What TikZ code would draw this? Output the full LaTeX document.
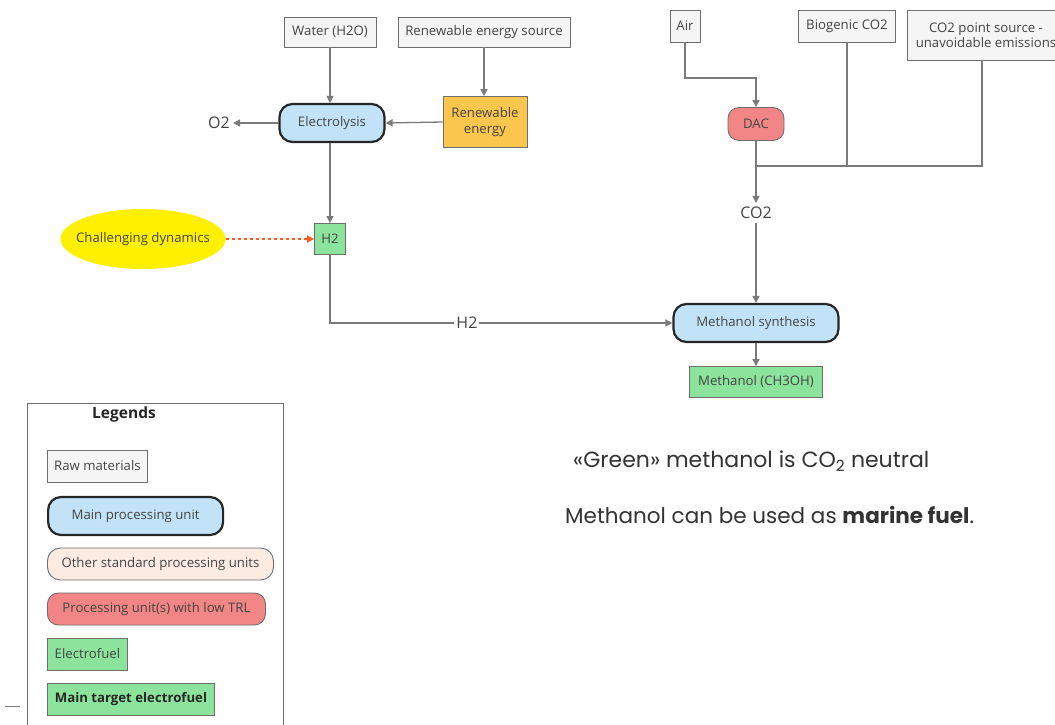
\documentclass[tikz,border=0pt]{standalone}
\usepackage{fontspec}
\setmainfont{Open Sans}
\newfontfamily\bodyfont{Poppins}
\usetikzlibrary{arrows.meta,shapes.geometric}
\definecolor{rawfill}{HTML}{F5F5F5}
\definecolor{rawdraw}{HTML}{6E6E6E}
\definecolor{bluefill}{HTML}{C2E3F7}
\definecolor{orangefill}{HTML}{FBC64E}
\definecolor{greenfill}{HTML}{8BE39C}
\definecolor{redfill}{HTML}{F28585}
\definecolor{pinkfill}{HTML}{FCEBE3}
\definecolor{yellowfill}{HTML}{FFF000}
\definecolor{linegray}{HTML}{7A7A7A}
\definecolor{txt}{HTML}{444444}
\definecolor{dashorange}{HTML}{FF5A1F}
\newcommand\dfont{\fontsize{13.2}{15.5}\selectfont}
\newcommand\efont{\fontsize{16}{18}\selectfont}
\tikzset{
  every node/.style={font=\dfont, text=txt, inner sep=0pt},
  rawbox/.style={draw=rawdraw, fill=rawfill, line width=0.9pt, minimum height=30pt},
  mainunit/.style={draw=black!85, fill=bluefill, line width=2.2pt, rounded corners=13pt, minimum height=38pt},
  otherunit/.style={draw=rawdraw, fill=pinkfill, line width=0.9pt, rounded corners=13pt, minimum height=32pt},
  lowunit/.style={draw=rawdraw, fill=redfill, line width=0.9pt, rounded corners=11pt, minimum height=32pt},
  fuelbox/.style={draw=rawdraw, fill=greenfill, line width=0.9pt, minimum height=31pt},
  energybox/.style={draw=rawdraw, fill=orangefill, line width=0.9pt, align=center},
  flowlabel/.style={font=\efont, text=txt, inner sep=3pt},
  arr/.style={draw=linegray, line width=1.3pt, -{Triangle[length=7pt,width=7pt]}},
  ln/.style={draw=linegray, line width=1.3pt},
  dasharr/.style={draw=dashorange, line width=1.2pt, dashed, -{Triangle[length=7pt,width=7pt]}},
}
\begin{document}
\begin{tikzpicture}[x=1pt, y=-1pt]
\useasboundingbox (0,0) rectangle (1055,725);
\fill[white] (0,0) rectangle (1055,725);
% left part
\node[rawbox, minimum width=92pt] (water) at (330,32) {Water (H2O)};
\node[rawbox, minimum width=172pt] (res) at (484,32) {Renewable energy source};
\node[mainunit, minimum width=105pt] (elec) at (332,123) {Electrolysis};
\node[energybox, minimum width=84pt, minimum height=51pt] (renew) at (485,122) {Renewable\\energy};
\node[flowlabel] (o2) at (219,123) {O2};
\node[fuelbox, minimum width=31pt] (h2) at (330,239) {H2};
\node[ellipse, fill=yellowfill, inner sep=-9pt, minimum width=165pt, minimum height=60pt] (chal) at (143,239) {Challenging dynamics};
\node[mainunit, minimum width=165pt] (msyn) at (756,323) {Methanol synthesis};
\node[fuelbox, minimum width=133pt] (meoh) at (756,382) {Methanol (CH3OH)};
% right part
\node[rawbox, minimum width=30pt, minimum height=32pt] (air) at (685,26) {Air};
\node[rawbox, minimum width=97pt, minimum height=32pt] (bio) at (847,26) {Biogenic CO2};
\node[rawbox, minimum width=158pt, minimum height=50pt, align=center] (pts) at (986,35) {CO2 point source -\\unavoidable emissions};
\node[lowunit, minimum width=56pt, minimum height=33pt, rounded corners=11pt] (dac) at (756,124) {DAC};
\node[flowlabel, inner sep=4pt] (co2) at (756,213) {CO2};
\coordinate (airbend) at (756,78);
\coordinate (j) at (756,166);
% connectors
\draw[arr] (water.south) -- (water.south |- elec.north);
\draw[arr] (res.south) -- (res.south |- renew.north);
\draw[arr] (renew.west) -- (elec.east);
\draw[arr] (elec.west) -- (o2.east);
\draw[arr] (elec.south -| h2.north) -- (h2.north);
\draw[dasharr] (chal.east) -- (h2.west);
\draw[arr] (h2.south) |- node[pos=0.7, fill=white, flowlabel, inner xsep=2pt, inner ysep=0pt] {H2} (msyn.west);
\draw[arr] (air.south) |- (airbend) -- (dac.north);
\draw[ln] (bio.south) |- (j);
\draw[ln] (pts.south -| 982,0) |- (j);
\draw[arr] (dac.south) -- (co2.north);
\draw[arr] (co2.south) -- (msyn.north);
\draw[arr] (msyn.south) -- (meoh.north);
% legend
\draw[rawdraw, line width=0.9pt] (27,403) rectangle (283,740);
\node[font=\fontsize{15.5}{18}\selectfont\bfseries, text=black!85] (leg) at (124,414) {Legends};
\node[rawbox, anchor=west, minimum width=100pt, minimum height=32pt] (l1) at (47,466) {Raw materials};
\node[mainunit, anchor=west, minimum width=175pt] (l2) at (47,516) {Main processing unit};
\node[otherunit, anchor=west, minimum width=226pt] (l3) at (47,564) {Other standard processing units};
\node[lowunit, anchor=west, minimum width=218pt] (l4) at (47,609) {Processing unit(s) with low TRL};
\node[fuelbox, anchor=west, minimum width=80pt, minimum height=32pt] (l5) at (47,654) {Electrofuel};
\node[fuelbox, anchor=west, minimum width=167pt, minimum height=32pt, font=\dfont\bfseries, text=black!85] (l6) at (47,699) {Main target electrofuel};
\draw[linegray, line width=0.8pt] (5,706) -- (20,706);
% statements
\node[anchor=west, font=\bodyfont\fontsize{22}{25}\selectfont, text=black!80] (s1) at (573,461) {«Green» methanol is CO\textsubscript{2} neutral};
\node[anchor=west, font=\bodyfont\fontsize{21.5}{25}\selectfont, text=black!80] (s2) at (565,515) {Methanol can be used as \textbf{marine fuel}.};
\end{tikzpicture}
\end{document}
